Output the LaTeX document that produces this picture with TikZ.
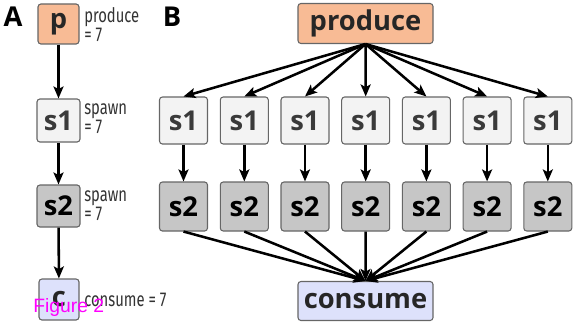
\documentclass[tikz,border=0pt]{standalone}
\usepackage{fontspec}
\setmainfont{Open Sans}
\newfontfamily\condfont[FakeStretch=0.74]{Fira Sans}
\newfontfamily\figfont{Liberation Sans}
\usetikzlibrary{arrows.meta}
\definecolor{orfill}{HTML}{F8BB95}
\definecolor{lgfill}{HTML}{F3F3F3}
\definecolor{dgfill}{HTML}{C6C6C6}
\definecolor{blfill}{HTML}{DDE1FB}
\definecolor{bord}{HTML}{666666}
\definecolor{txtgray}{HTML}{3A3A3A}
\definecolor{figmag}{RGB}{255,0,255}
\tikzset{
  box/.style={draw=bord, line width=0.8pt, rounded corners=2.2pt, inner sep=0pt,
    font=\fontsize{20.5}{22}\selectfont\bfseries},
  pbox/.style={box, fill=orfill, text=black!85},
  sabox/.style={box, fill=lgfill, text=txtgray},
  sbbox/.style={box, fill=dgfill, text=black},
  cbox/.style={box, fill=blfill, text=black!85},
  lbl/.style={anchor=north west, inner sep=0pt, align=left,
    font=\condfont\fontsize{15}{12.5}\selectfont, text=black!80},
  arr/.style={-{Stealth[length=9pt,width=7.5pt,inset=2pt]}, line width=1.9pt},
  panel/.style={font=\fontsize{20.5}{22}\selectfont\bfseries, inner sep=0pt}
}
\begin{document}
\begin{tikzpicture}[x=0.75pt,y=-0.75pt]
\useasboundingbox (0,0) rectangle (574,321);
% Panel A
\node[panel] (labA) at (13,17) {A};
\node[pbox, minimum width=30.75pt, minimum height=30pt] (pA) at (58.5,24) {p};
\node[sabox, minimum width=32.25pt, minimum height=32.25pt] (s1A) at (58.5,120.5) {s1};
\node[sbbox, minimum width=32.25pt, minimum height=31.5pt] (s2A) at (58.5,206) {s2};
\node[cbox, minimum width=30pt, minimum height=30.75pt] (cA) at (59,299.5) {c};
\node[lbl] (lp) at (84,7) {produce\\= 7};
\node[lbl] (ls1) at (84,103) {spawn\\= 7};
\node[lbl] (ls2) at (84,190) {spawn\\= 7};
\node[lbl, anchor=west] (lc) at (84,300) {consume = 7};
\draw[arr] (pA) -- (s1A);
\draw[arr] (s1A) -- (s2A);
\draw[arr] (s2A) -- (cA);
% Panel B
\node[panel] (labB) at (172,17) {B};
\node[pbox, minimum width=101.25pt, minimum height=30pt] (prod) at (365.5,23.5) {produce};
\node[cbox, minimum width=101.25pt, minimum height=29.25pt] (cons) at (365.5,301) {consume};
\foreach \i/\x in {1/183.5,2/244.3,3/305,4/365.7,5/426.4,6/487.1,7/547.8}{
  \node[sabox, minimum width=36pt, minimum height=35.25pt] (a\i) at (\x,120.5) {s1};
  \node[sbbox, minimum width=36pt, minimum height=36.75pt] (b\i) at (\x,206.5) {s2};
  \draw[arr] (prod.south) -- (a\i.north);
  \draw[arr] (a\i) -- (b\i);
  \draw[arr] (b\i.south) -- (cons.north);
}
\node[anchor=west, inner sep=0pt, text=figmag, font=\figfont\fontsize{14.5}{15}\selectfont] (fig) at (33,307) {Figure 2};
\end{tikzpicture}
\end{document}
